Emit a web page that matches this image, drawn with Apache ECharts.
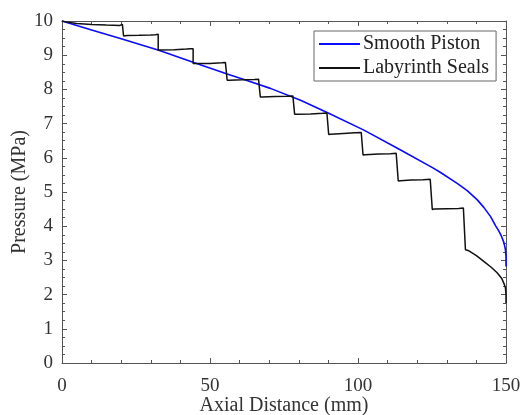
<!DOCTYPE html>
<html>
<head>
<meta charset="utf-8">
<script src="https://cdn.jsdelivr.net/npm/echarts@6/dist/echarts.min.js"></script>
<style>
html,body{margin:0;padding:0;background:#fff;}
#main{width:524px;height:415px;}
</style>
</head>
<body>
<div id="main"></div>
<script>
//smooth piston curve
var smoothX = [0, 10, 20, 32.7, 45, 55.8, 62.5, 70.4, 80.6, 90.1, 102, 114.4, 125.6, 127.9, 133.5, 136.9, 140.3, 142.5, 144.8, 146.5, 147.5, 148.5, 149.3, 149.8, 150, 150];
var smoothP = [10, 9.74, 9.48, 9.145, 8.77, 8.45, 8.26, 8.03, 7.68, 7.30, 6.81, 6.23, 5.69, 5.57, 5.25, 5.04, 4.77, 4.55, 4.28, 4.01, 3.87, 3.70, 3.52, 3.32, 3.1, 2.82];

//labyrinth seals curve (steps)
var sealX = [0, 2, 5, 10, 15, 19.5, 20.4, 20.8,
    20.8, 22, 26, 30, 31.6, 32.2, 32.5,
    32.5, 33.2, 38, 42, 43.6, 44.0, 44.3,
    44.3, 45, 50, 54, 55.2, 55.6, 55.8,
    55.8, 56.5, 61, 65, 66.4, 66.8, 67.0,
    67.0, 67.7, 72, 76, 78, 78.4, 78.6,
    78.6, 79.3, 84, 88, 89.5, 89.9, 90.1,
    90.1, 90.8, 95, 99, 101.1, 101.5, 101.7,
    101.7, 102.4, 107, 111, 112.9, 113.4, 113.6,
    113.6, 114.3, 118, 122, 124.4, 124.9, 125.1,
    125.1, 125.8, 130, 134, 135.6, 136.1, 136.3,
    136.3, 137.2, 140, 142.5, 145, 147, 148.5, 149.3, 149.8, 150, 150];
var sealP = [10, 9.96, 9.93, 9.90, 9.88, 9.87, 9.90, 9.89,
    9.56, 9.575, 9.58, 9.59, 9.60, 9.62, 9.61,
    9.145, 9.15, 9.16, 9.18, 9.19, 9.20, 9.19,
    8.76, 8.76, 8.76, 8.78, 8.79, 8.80, 8.79,
    8.27, 8.27, 8.28, 8.29, 8.30, 8.32, 8.31,
    7.78, 7.78, 7.79, 7.80, 7.81, 7.83, 7.82,
    7.27, 7.27, 7.28, 7.30, 7.31, 7.33, 7.32,
    6.68, 6.69, 6.71, 6.73, 6.74, 6.76, 6.75,
    6.08, 6.09, 6.11, 6.12, 6.13, 6.15, 6.14,
    5.32, 5.33, 5.35, 5.36, 5.37, 5.40, 5.39,
    4.49, 4.50, 4.51, 4.52, 4.53, 4.55, 4.54,
    3.31, 3.29, 3.14, 2.97, 2.80, 2.64, 2.48, 2.33, 2.2, 2.0, 1.75];

var seriesNames = ['Smooth Piston', 'Labyrinth Seals'];
var xTicks = [0, 50, 100, 150];
var yTicks = [0, 1, 2, 3, 4, 5, 6, 7, 8, 9, 10];

function pairs(xs, ys) {
    var out = [];
    for (var i = 0; i < xs.length; i++) {
        out.push([xs[i], ys[i]]);
    }
    return out;
}

var font = '"Liberation Serif", "Times New Roman", serif';
var axisColor = '#555';

//box axes: main axis plus a mirrored one without labels
function xAxisOf(pos, show) {
    return {
        type: 'value', position: pos, min: xTicks[0], max: xTicks[xTicks.length - 1], interval: 50,
        axisLine: {show: true, onZero: false, lineStyle: {color: axisColor, width: 1}},
        axisTick: {show: true, inside: true, length: 5, lineStyle: {color: axisColor}},
        minorTick: {show: true, splitNumber: 5, length: 3, lineStyle: {color: axisColor}},
        axisLabel: {show: show, margin: 14, color: '#333', fontFamily: font, fontSize: 19},
        splitLine: {show: false},
        name: show ? 'Axial Distance (mm)' : '', nameLocation: 'middle', nameGap: 33, nameMoveOverlap: false,
        nameTextStyle: {color: '#333', fontFamily: font, fontSize: 20}
    };
}
function yAxisOf(pos, show) {
    return {
        type: 'value', position: pos, min: yTicks[0], max: yTicks[yTicks.length - 1], interval: 1,
        axisLine: {show: true, onZero: false, lineStyle: {color: axisColor, width: 1}},
        axisTick: {show: true, inside: true, length: 5, lineStyle: {color: axisColor}},
        minorTick: {show: true, splitNumber: 4, length: 3, lineStyle: {color: axisColor}},
        axisLabel: {show: show, margin: 9, color: '#333', fontFamily: font, fontSize: 19},
        splitLine: {show: false},
        name: show ? 'Pressure (MPa)' : '', nameLocation: 'middle', nameGap: 32, nameMoveOverlap: false,
        nameTextStyle: {color: '#333', fontFamily: font, fontSize: 20}
    };
}

var myChart = echarts.init(document.getElementById('main'));
var option = {
    backgroundColor: '#fff',
    animation: false,
    grid: {left: 62, right: 18, top: 21, bottom: 52, containLabel: false, outerBoundsMode: 'none'},
    legend: {
        orient: 'vertical', left: 314, top: 31,
        backgroundColor: '#fff',
        borderColor: '#666', borderWidth: 1,
        padding: [3, 7, 3, 4],
        itemWidth: 41, itemHeight: 20, itemGap: 4,
        itemStyle: {opacity: 0},
        textStyle: {color: '#222', fontFamily: font, fontSize: 20, padding: [0, 0, 0, -2]},
        data: seriesNames
    },
    xAxis: [xAxisOf('bottom', true), xAxisOf('top', false)],
    yAxis: [yAxisOf('left', true), yAxisOf('right', false)],
    series: [{
        name: seriesNames[0],
        type: 'line',
        data: pairs(smoothX, smoothP),
        symbol: 'none',
        lineStyle: {color: '#0a0aff', width: 1.6},
        itemStyle: {color: '#0a0aff'}
    }, {
        name: seriesNames[1],
        type: 'line',
        data: pairs(sealX, sealP),
        symbol: 'none',
        lineStyle: {color: '#111', width: 1.5},
        itemStyle: {color: '#111'}
    }]
};
myChart.setOption(option);
</script>
</body>
</html>
